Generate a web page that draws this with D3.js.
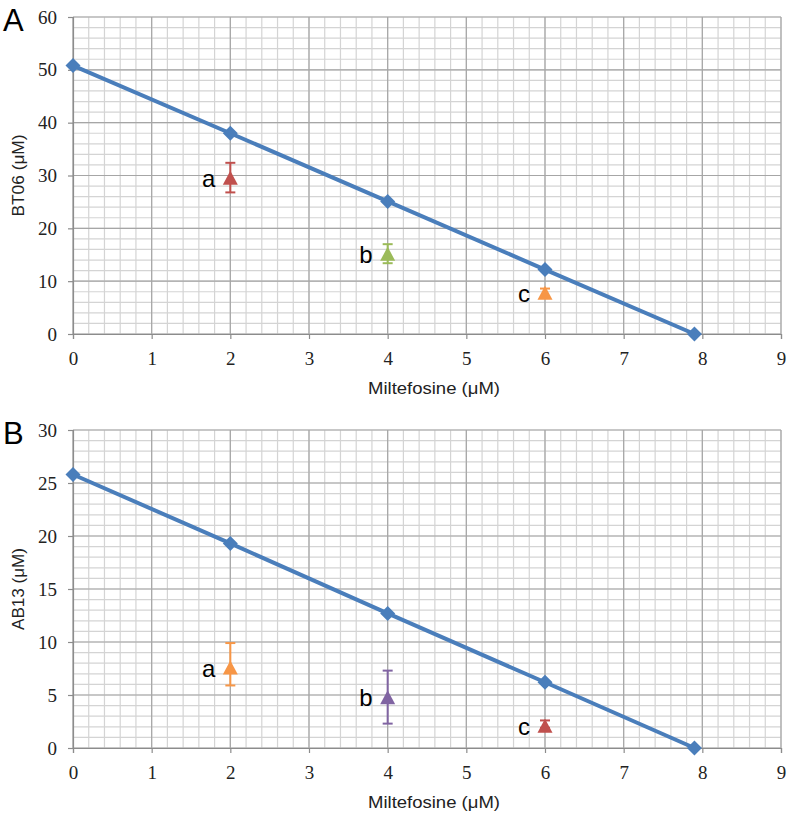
<!DOCTYPE html>
<html><head><meta charset="utf-8">
<script src="https://cdn.jsdelivr.net/npm/d3@7"></script>
<style>body{margin:0;background:#fff}svg{display:block}</style>
</head><body>
<svg id="c" width="790" height="813"></svg>
<script>
// Data
const xTicks = [0,1,2,3,4,5,6,7,8,9];
const lineX = [0,2,4,6,7.9];
const lineA = [50.8,38.0,25.1,12.2,0];
const lineB = [25.8,19.3,12.7,6.2,0];
const ptLabels = ["a","b","c"];
const ptX = [2,4,6];
const ptA = [29.4,15.0,7.6];
const errLoA = [26.8,13.4,7.0];
const errHiA = [32.4,17.0,8.6];
const ptB = [7.5,4.7,2.0];
const errLoB = [5.9,2.3,1.9];
const errHiB = [9.9,7.3,2.6];
const colorsA = ["#c0504d","#9bbb59","#f79646"];
const colorsB = ["#f79646","#8064a2","#c0504d"];
const yTicksA = [0,10,20,30,40,50,60];
const yTicksB = [0,5,10,15,20,25,30];

const svg = d3.select("#c");
const SERIF = "'Liberation Serif','DejaVu Serif',serif";
const SANS = "'Liberation Sans',Arial,sans-serif";

function panel(opt){
  const g = svg.append("g");
  const x = d3.scaleLinear().domain([0,9]).range([73,781]);
  const y = d3.scaleLinear().domain([0,opt.ymax]).range([opt.y0,opt.y1]);
  const xMinor = d3.range(0,9.0001,0.2);
  const yMinor = d3.range(0,opt.ymax+0.0001,opt.ymax/30);
  g.selectAll(".vx").data(xMinor).join("line")
    .attr("x1",d=>x(d)).attr("x2",d=>x(d)).attr("y1",y(0)).attr("y2",y(opt.ymax))
    .attr("stroke","#d4d4d4").attr("stroke-width",1.2);
  g.selectAll(".hy").data(yMinor).join("line")
    .attr("x1",x(0)).attr("x2",x(9)).attr("y1",d=>y(d)).attr("y2",d=>y(d))
    .attr("stroke","#d4d4d4").attr("stroke-width",1.2);
  g.selectAll(".Vx").data(xTicks).join("line")
    .attr("x1",d=>x(d)).attr("x2",d=>x(d)).attr("y1",y(0)).attr("y2",y(opt.ymax))
    .attr("stroke","#a6a6a6").attr("stroke-width",1.2);
  g.selectAll(".Hy").data(opt.yTicks).join("line")
    .attr("x1",x(0)).attr("x2",x(9)).attr("y1",d=>y(d)).attr("y2",d=>y(d))
    .attr("stroke","#a6a6a6").attr("stroke-width",1.2);
  const xa = g.append("g").attr("transform",`translate(0,${y(0)})`)
    .call(d3.axisBottom(x).tickValues(xTicks).tickSize(5).tickPadding(13).tickFormat(d3.format("d")));
  const ya = g.append("g").attr("transform",`translate(${x(0)},0)`)
    .call(d3.axisLeft(y).tickValues(opt.yTicks).tickSize(5).tickPadding(11).tickFormat(d3.format("d")));
  [xa,ya].forEach(a=>{
    a.attr("font-family",SERIF).attr("font-size",19);
    a.select(".domain").attr("stroke","#8c8c8c").attr("stroke-width",1.2);
    a.selectAll(".tick line").attr("stroke","#8c8c8c").attr("stroke-width",1.2);
    a.selectAll(".tick text").attr("fill","#222");
  });
  g.append("text").attr("x",(x(0)+x(9))/2+7).attr("y",y(0)+60).attr("text-anchor","middle")
    .attr("font-family",SANS).attr("font-size",17).attr("fill","#222")
    .attr("textLength",132).attr("lengthAdjust","spacingAndGlyphs")
    .text("Miltefosine (μM)");
  g.append("text").attr("transform",`translate(24,${(y(0)+y(opt.ymax))/2}) rotate(-90)`)
    .attr("text-anchor","middle")
    .attr("font-family",SANS).attr("font-size",17).attr("fill","#222")
    .attr("textLength",82).attr("lengthAdjust","spacingAndGlyphs")
    .text(opt.ytitle);
  g.append("text").attr("x",3).attr("y",y(opt.ymax)+14)
    .attr("font-family",SANS).attr("font-size",31).attr("fill","#000")
    .text(opt.letter);
  const data = lineX.map((d,i)=>[d,opt.line[i]]);
  g.append("path").datum(data)
    .attr("d",d3.line().x(d=>x(d[0])).y(d=>y(d[1])))
    .attr("fill","none").attr("stroke","#4a7ebb").attr("stroke-width",4);
  g.selectAll(".dm").data(data).join("path")
    .attr("transform",d=>`translate(${x(d[0])},${y(d[1])})`)
    .attr("d","M0,-7.5L7.5,0L0,7.5L-7.5,0Z").attr("fill","#4a7ebb");
  ptX.forEach((px,i)=>{
    const c = opt.colors[i];
    const cx = x(px);
    g.append("line").attr("x1",cx).attr("x2",cx).attr("y1",y(opt.lo[i])).attr("y2",y(opt.hi[i]))
      .attr("stroke",c).attr("stroke-width",2);
    [opt.lo[i],opt.hi[i]].forEach(v=>{
      g.append("line").attr("x1",cx-5).attr("x2",cx+5).attr("y1",y(v)).attr("y2",y(v))
        .attr("stroke",c).attr("stroke-width",2);
    });
    const cy = y(opt.pt[i]);
    g.append("path").attr("transform",`translate(${cx},${cy})`)
      .attr("d","M0,-8L7.5,6L-7.5,6Z").attr("fill",c);
    g.append("text").attr("x",cx-15).attr("y",cy+8).attr("text-anchor","end")
      .attr("font-family",SANS).attr("font-size",24).attr("fill","#000")
      .text(ptLabels[i]);
  });
}

panel({ymax:60,y0:334,y1:17,yTicks:yTicksA,line:lineA,pt:ptA,lo:errLoA,hi:errHiA,colors:colorsA,ytitle:"BT06 (μM)",letter:"A"});
panel({ymax:30,y0:748,y1:430,yTicks:yTicksB,line:lineB,pt:ptB,lo:errLoB,hi:errHiB,colors:colorsB,ytitle:"AB13 (μM)",letter:"B"});
</script>
</body></html>
